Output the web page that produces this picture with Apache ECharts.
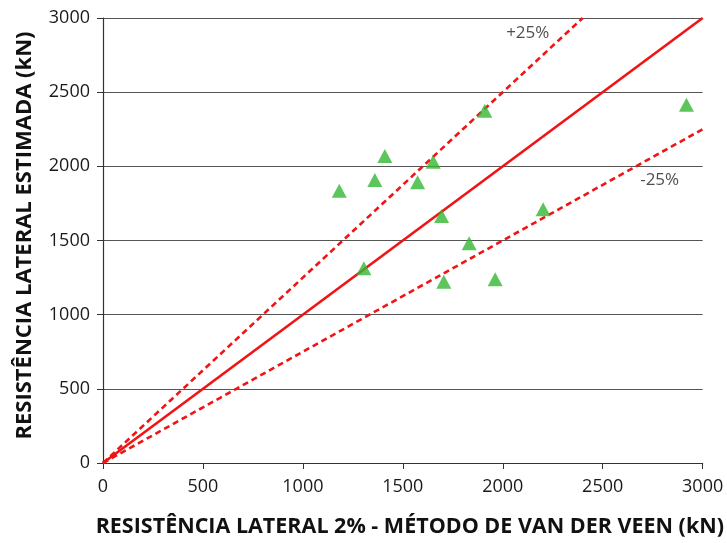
<!DOCTYPE html>
<html>
<head>
<meta charset="utf-8">
<script src="https://cdn.jsdelivr.net/npm/echarts@6/dist/echarts.min.js"></script>
<style>
  html, body { margin: 0; padding: 0; background: #fff; }
  #chart { width: 727px; height: 543px; }
</style>
</head>
<body>
<div id="chart"></div>
<script>
// Lateral resistance: 2% Van der Veen method (x) vs estimated (y), kN
const vanDerVeen = [1182, 1360, 1410, 1574, 1652, 1910, 1305, 1694, 1705, 1832, 1962, 2202, 2919];
const estimada   = [1836, 1908, 2070, 1893, 2031, 2375, 1313, 1665, 1222, 1481, 1239, 1710, 2415];

// Reference lines through the origin: 1:1, +25% and -25%
const lineEqual = [[0, 0], [3000, 3000]];
const linePlus25 = [[0, 0], [2400, 3000]];
const lineMinus25 = [[0, 0], [3000, 2250]];

// Text labels for the bound lines
const boundLabels = [
  { value: [2125, 2900], text: '+25%' },
  { value: [2785, 1905], text: '-25%' }
];

const axisTicks = { min: 0, max: 3000, interval: 500 };
const xTitle = 'RESISTÊNCIA LATERAL 2% - MÉTODO DE VAN DER VEEN (kN)';
const yTitle = 'RESISTÊNCIA LATERAL ESTIMADA (kN)';

const red = '#f01414';
const font = '"Open Sans", "Liberation Sans", sans-serif';
const plain = v => String(v);

const chart = echarts.init(document.getElementById('chart'));
chart.setOption({
  animation: false,
  backgroundColor: '#ffffff',
  grid: { left: 103, right: 24, top: 18, bottom: 80, containLabel: false },
  xAxis: {
    type: 'value',
    min: axisTicks.min, max: axisTicks.max, interval: axisTicks.interval,
    name: xTitle,
    nameLocation: 'middle',
    nameGap: 53,
    nameTextStyle: { fontFamily: font, fontWeight: 'bold', fontSize: 21.5, color: '#111', padding: [0, 0, 0, 14] },
    axisLine: { lineStyle: { color: '#333', width: 1.2 } },
    axisTick: { show: true, inside: false, length: 6, lineStyle: { color: '#333' } },
    axisLabel: { fontFamily: font, fontSize: 18, color: '#1a1a1a', margin: 15, formatter: plain },
    splitLine: { show: false }
  },
  yAxis: {
    type: 'value',
    min: axisTicks.min, max: axisTicks.max, interval: axisTicks.interval,
    name: yTitle,
    nameLocation: 'middle',
    nameGap: 67,
    nameTextStyle: { fontFamily: font, fontWeight: 'bold', fontSize: 22, color: '#111', padding: [0, 0, 0, 10] },
    axisLine: { show: true, lineStyle: { color: '#333', width: 1.2 } },
    axisTick: { show: true, inside: false, length: 6, lineStyle: { color: '#333' } },
    axisLabel: { fontFamily: font, fontSize: 18, color: '#1a1a1a', margin: 13, padding: [5, 0, 0, 0], formatter: plain },
    splitLine: { show: true, lineStyle: { color: '#555', width: 1.2 } }
  },
  series: [
    {
      type: 'line', data: lineEqual, symbol: 'none',
      lineStyle: { color: red, width: 2.6, type: 'solid' }, z: 3
    },
    {
      type: 'line', data: linePlus25, symbol: 'none',
      lineStyle: { color: red, width: 2.6, type: [6, 4] }, z: 3
    },
    {
      type: 'line', data: lineMinus25, symbol: 'none',
      lineStyle: { color: red, width: 2.6, type: [6, 4] }, z: 3
    },
    {
      type: 'scatter',
      data: vanDerVeen.map((x, i) => [x, estimada[i]]),
      symbol: 'triangle',
      symbolSize: [15, 14],
      itemStyle: { color: '#33b833' },
      z: 4
    },
    {
      type: 'scatter',
      data: boundLabels.map(d => ({ value: d.value, name: d.text })),
      symbolSize: 0,
      label: {
        show: true, position: 'inside',
        formatter: p => p.name,
        fontFamily: font, fontSize: 17, color: '#222'
      },
      z: 5
    }
  ]
});
</script>
</body>
</html>
